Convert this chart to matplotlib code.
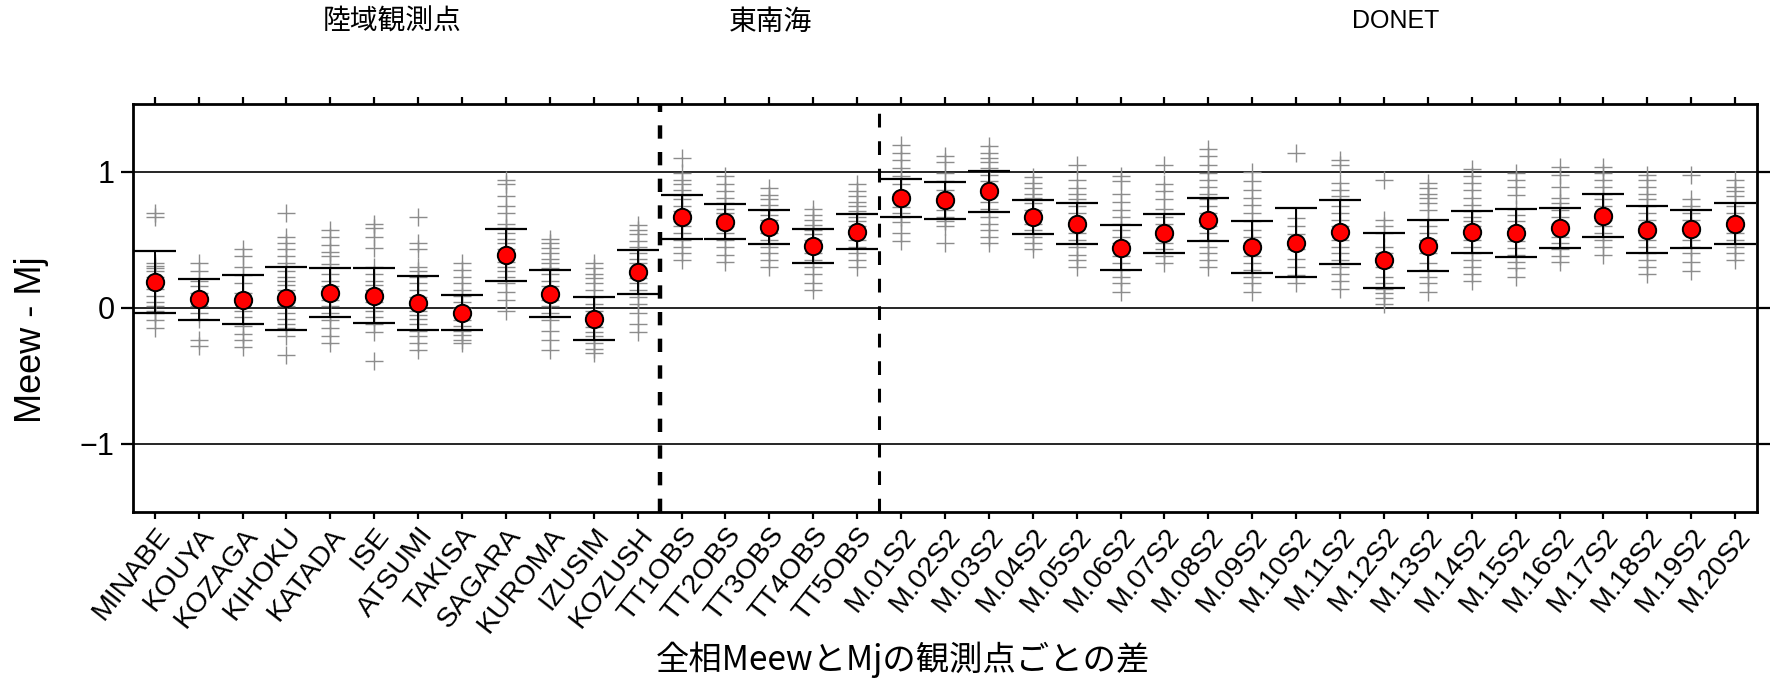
import numpy as np
import matplotlib
matplotlib.use("Agg")
import matplotlib.pyplot as plt

plt.rcParams['font.family'] = ['Liberation Sans', 'DejaVu Sans']

# station names
land_stations = ["MINABE", "KOUYA", "KOZAGA", "KIHOKU", "KATADA", "ISE", "ATSUMI",
                 "TAKISA", "SAGARA", "KUROMA", "IZUSIM", "KOZUSH"]
tonankai_stations = ["TT1OBS", "TT2OBS", "TT3OBS", "TT4OBS", "TT5OBS"]
donet_stations = ["M.%02dS2" % i for i in range(1, 21)]
stations = land_stations + tonankai_stations + donet_stations

group_labels = ["陸域観測点", "東南海", "DONET"]

# mean of Meew - Mj and error bar half width, per station
mean_diff = [0.19, 0.064, 0.06, 0.07, 0.11, 0.09, 0.035, -0.035, 0.39, 0.105, -0.08, 0.263,
             0.67, 0.635, 0.596, 0.458, 0.561,
             0.808, 0.79, 0.857, 0.67, 0.62, 0.443, 0.549, 0.65, 0.45, 0.48,
             0.559, 0.35, 0.458, 0.559, 0.549, 0.589, 0.677, 0.574, 0.579, 0.62]
err_diff = [0.23, 0.15, 0.18, 0.23, 0.18, 0.20, 0.20, 0.13, 0.19, 0.175, 0.157, 0.163,
            0.162, 0.13, 0.126, 0.125, 0.13,
            0.143, 0.138, 0.15, 0.124, 0.148, 0.167, 0.144, 0.159, 0.192, 0.253,
            0.238, 0.204, 0.188, 0.157, 0.177, 0.149, 0.158, 0.172, 0.139, 0.153]

# individual events (gray crosses)
land_events = [
    [0.70, 0.67, 0.33, 0.31, 0.29, 0.27, 0.23, 0.19, 0.14, 0.09, 0.04, 0.01, -0.02, -0.04, -0.09, -0.15],
    [0.33, 0.27, 0.20, 0.16, 0.11, 0.06, 0.01, -0.04, -0.08, -0.24, -0.28],
    [0.43, 0.38, 0.30, 0.24, 0.18, 0.11, 0.04, -0.02, -0.07, -0.13, -0.19, -0.24, -0.29],
    [0.70, 0.52, 0.48, 0.43, 0.38, 0.33, 0.27, 0.23, 0.20, 0.17, 0.13, 0.08, 0.04, 0.01, -0.04,
     -0.08, -0.12, -0.15, -0.21, -0.35],
    [0.57, 0.52, 0.46, 0.41, 0.38, 0.32, 0.25, 0.20, 0.16, 0.11, 0.06, 0.01, -0.04, -0.09, -0.15,
     -0.21, -0.26],
    [0.62, 0.59, 0.52, 0.44, 0.30, 0.25, 0.20, 0.17, 0.13, 0.09, 0.04, -0.02, -0.07, -0.12, -0.18, -0.39],
    [0.67, 0.48, 0.43, 0.30, 0.27, 0.23, 0.18, 0.13, 0.08, -0.02, -0.05, -0.08, -0.12, -0.17, -0.21,
     -0.26, -0.31],
    [0.33, 0.28, 0.23, 0.18, 0.13, 0.09, 0.04, 0.00, -0.05, -0.09, -0.13, -0.17, -0.20, -0.24, -0.26],
    [0.94, 0.91, 0.82, 0.75, 0.70, 0.62, 0.59, 0.55, 0.51, 0.48, 0.43, 0.38, 0.34, 0.30, 0.27, 0.23,
     0.18, 0.12, 0.06, -0.02],
    [0.51, 0.48, 0.44, 0.40, 0.36, 0.33, 0.29, 0.25, 0.20, 0.16, 0.11, 0.06, 0.01, -0.04, -0.09,
     -0.17, -0.24, -0.31],
    [0.33, 0.29, 0.25, 0.22, 0.18, 0.13, 0.08, 0.03, -0.02, -0.05, -0.09, -0.14, -0.18, -0.21, -0.26,
     -0.30, -0.33],
    [0.61, 0.57, 0.54, 0.49, 0.45, 0.40, 0.36, 0.33, 0.29, 0.25, 0.22, 0.18, 0.13, 0.08, 0.03, -0.04,
     -0.12, -0.18],
]
tonankai_events = [
    [1.10, 0.99, 0.94, 0.91, 0.87, 0.83, 0.80, 0.75, 0.71, 0.67, 0.64, 0.60, 0.55, 0.50, 0.45, 0.40, 0.35],
    [0.97, 0.91, 0.86, 0.81, 0.77, 0.73, 0.70, 0.65, 0.60, 0.55, 0.50, 0.45, 0.39, 0.34],
    [0.88, 0.83, 0.80, 0.76, 0.72, 0.68, 0.65, 0.60, 0.55, 0.50, 0.45, 0.40, 0.35, 0.30],
    [0.73, 0.68, 0.65, 0.61, 0.57, 0.54, 0.50, 0.45, 0.40, 0.35, 0.30, 0.25, 0.18, 0.13],
    [0.91, 0.86, 0.82, 0.78, 0.75, 0.71, 0.67, 0.64, 0.60, 0.55, 0.50, 0.45, 0.40, 0.35, 0.30],
]
donet_events = [
    [1.20, 1.14, 1.09, 1.03, 0.97, 0.91, 0.84, 0.74, 0.70, 0.67, 0.63, 0.55, 0.49],
    [1.12, 1.07, 0.99, 0.93, 0.87, 0.82, 0.77, 0.72, 0.67, 0.64, 0.60, 0.48],
    [1.19, 1.14, 1.10, 1.07, 1.03, 0.98, 0.93, 0.88, 0.83, 0.78, 0.73, 0.67, 0.62, 0.57, 0.52, 0.48],
    [0.96, 0.92, 0.88, 0.84, 0.81, 0.77, 0.72, 0.67, 0.62, 0.57, 0.52, 0.48, 0.43],
    [1.05, 0.94, 0.88, 0.84, 0.80, 0.75, 0.70, 0.65, 0.60, 0.55, 0.50, 0.45, 0.39, 0.35, 0.30],
    [0.97, 0.93, 0.84, 0.78, 0.72, 0.67, 0.62, 0.57, 0.52, 0.48, 0.43, 0.38, 0.33, 0.28, 0.23, 0.18, 0.12],
    [1.05, 0.91, 0.86, 0.80, 0.73, 0.67, 0.62, 0.57, 0.52, 0.48, 0.43, 0.38, 0.33],
    [1.17, 1.12, 1.05, 0.99, 0.94, 0.89, 0.84, 0.80, 0.75, 0.70, 0.65, 0.60, 0.55, 0.50, 0.45, 0.40,
     0.35, 0.30],
    [1.00, 0.93, 0.87, 0.81, 0.76, 0.70, 0.64, 0.57, 0.52, 0.48, 0.43, 0.38, 0.33, 0.28, 0.23, 0.18, 0.12],
    [1.14, 0.66, 0.60, 0.54, 0.48, 0.43, 0.36, 0.30, 0.24, 0.18],
    [1.09, 1.05, 0.92, 0.87, 0.82, 0.75, 0.70, 0.65, 0.60, 0.55, 0.50, 0.45, 0.40, 0.35, 0.30, 0.25,
     0.20, 0.14],
    [0.94, 0.65, 0.60, 0.55, 0.45, 0.40, 0.35, 0.30, 0.23, 0.18, 0.14, 0.11, 0.07, 0.03],
    [0.92, 0.88, 0.84, 0.81, 0.77, 0.72, 0.65, 0.60, 0.55, 0.50, 0.45, 0.40, 0.33, 0.28, 0.23, 0.18, 0.12],
    [1.02, 0.97, 0.92, 0.87, 0.81, 0.76, 0.71, 0.67, 0.64, 0.60, 0.55, 0.50, 0.45, 0.40, 0.35, 0.30,
     0.25, 0.20],
    [0.99, 0.94, 0.89, 0.83, 0.73, 0.68, 0.64, 0.59, 0.54, 0.49, 0.44, 0.39, 0.34, 0.29, 0.23],
    [1.04, 0.98, 0.89, 0.81, 0.77, 0.72, 0.67, 0.62, 0.57, 0.52, 0.48, 0.43, 0.38, 0.34],
    [1.04, 0.99, 0.94, 0.89, 0.84, 0.80, 0.75, 0.70, 0.65, 0.60, 0.55, 0.50, 0.45, 0.39],
    [0.98, 0.94, 0.89, 0.84, 0.80, 0.75, 0.70, 0.65, 0.60, 0.55, 0.50, 0.45, 0.40, 0.35, 0.30, 0.25],
    [0.98, 0.80, 0.75, 0.70, 0.65, 0.60, 0.55, 0.50, 0.45, 0.40, 0.34, 0.27],
    [0.94, 0.89, 0.86, 0.82, 0.75, 0.70, 0.65, 0.60, 0.55, 0.50, 0.45, 0.40, 0.35],
]
events = land_events + tonankai_events + donet_events

fig = plt.figure(figsize=(17.75, 6.87), dpi=100)
ax = fig.add_axes([0.0748, 0.2552, 0.9151, 0.5934])

xpos = np.arange(len(stations))

# reference lines
for yv in [-1, 0, 1]:
    ax.axhline(yv, color='black', lw=1.2, zorder=1)

# individual events
for i, vals in enumerate(events):
    ax.plot(np.full(len(vals), xpos[i]), vals, linestyle='none', marker='+',
            markersize=13, markeredgewidth=1.0, color='#8c8c8c', zorder=2)

# mean with error bar
ax.errorbar(xpos, mean_diff, yerr=err_diff, fmt='none', ecolor='black',
            elinewidth=1.4, capsize=15, capthick=1.6, zorder=3)
ax.plot(xpos, mean_diff, linestyle='none', marker='o', markersize=12.5,
        markerfacecolor='red', markeredgecolor='black', markeredgewidth=1.4, zorder=4)

# group separators
n_land = len(land_stations)
n_tt = len(tonankai_stations)
ax.axvline(n_land - 0.5, color='black', lw=3.2, linestyle=(0, (3.0, 3.0)), zorder=5)
ax.axvline(n_land + n_tt - 0.5, color='black', lw=2.2, linestyle=(0, (4.5, 4.5)), zorder=5)

ax.set_xlim(-0.5, len(stations) - 0.5)
ax.set_ylim(-1.5, 1.5)

ax.set_yticks([-1, 0, 1])
ax.set_yticklabels(['\u22121', '0', '1'], fontsize=22)
ax.set_xticks(xpos)
ax.set_xticklabels(stations, rotation=52, ha='right', va='top',
                   rotation_mode='anchor', fontsize=20.5)

ax.tick_params(axis='x', which='both', direction='out', length=5, width=1.6,
               top=True, bottom=True, pad=3)
ax.tick_params(axis='y', which='both', direction='out', length=9, width=1.6,
               left=True, right=True, pad=4)
for sp in ax.spines.values():
    sp.set_linewidth(2.0)

fig.text(0.018, 0.505, 'Meew - Mj', rotation=90, ha='center', va='center', fontsize=26)

jp_font = ['Noto Sans CJK JP', 'DejaVu Sans']
fig.text(903 / 1775, 1 - 660 / 687, '全相MeewとMjの観測点ごとの差', ha='center', va='center',
         fontsize=24, family=jp_font)

group_x = [392, 770]
for label, gx in zip(group_labels[:2], group_x):
    fig.text(gx / 1775, 1 - 22 / 687, label, ha='center', va='center', fontsize=20,
             family=jp_font)
fig.text(1396 / 1775, 1 - 21 / 687, group_labels[2], ha='center', va='center', fontsize=18)

fig.savefig('out.png', dpi=100)
